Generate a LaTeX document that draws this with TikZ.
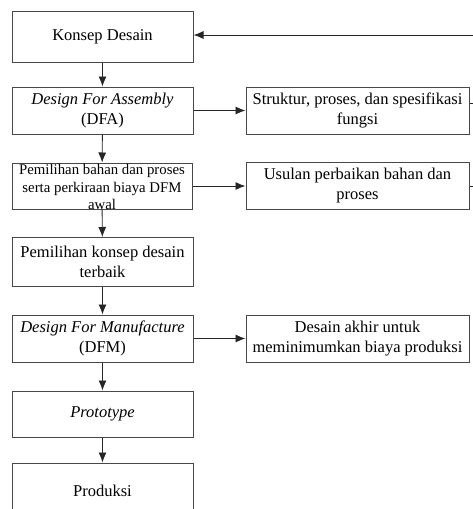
\documentclass[tikz,border=0pt]{standalone}
\usepackage{fontspec}
\setmainfont{Liberation Serif}
\usetikzlibrary{arrows.meta}
\begin{document}
\begin{tikzpicture}[x=1pt,y=-1pt,
  box/.style={draw=black!72, line width=1pt, inner sep=0pt, align=center,
              font=\fontsize{16.5}{20}\selectfont},
  lbox/.style={box, minimum width=181pt},
  rbox/.style={box, minimum width=223pt, minimum height=47pt},
  arr/.style={-{Latex[length=10pt,width=8pt]}, line width=0.9pt, black!85},
  ln/.style={line width=0.9pt, black!85}]
\useasboundingbox (0,0) rectangle (473,509);
% left column
\node[lbox, minimum height=51pt] (konsep) at (102.5,36.5) {Konsep Desain};
\node[lbox, minimum height=47pt] (dfa) at (102.5,110.5) {\textit{Design For Assembly}\\(DFA)};
\node[lbox, minimum width=180pt, minimum height=46pt] (pem) at (102,186) {};
\node[align=center, inner sep=0pt, font=\fontsize{14.8}{17.5}\selectfont] (pemtxt) at (102,187)
  {Pemilihan bahan dan proses\\serta perkiraan biaya DFM\\awal};
\node[lbox, minimum height=49pt] (terbaik) at (102.5,262) {Pemilihan konsep desain\\terbaik};
\node[lbox, minimum height=47pt] (dfm) at (102.5,338.5) {\textit{Design For Manufacture}\\(DFM)};
\node[lbox, minimum height=46pt] (proto) at (102.5,414) {\textit{Prototype}};
\node[lbox, minimum height=56pt] (prod) at (102.5,491) {Produksi};
% right column
\node[rbox] (struktur) at (357.5,110.5) {Struktur, proses, dan spesifikasi\\fungsi};
\node[rbox] (usulan) at (357.5,186) {Usulan perbaikan bahan dan\\proses};
\node[rbox] (akhir) at (357.5,338.5) {Desain akhir untuk\\meminimumkan biaya produksi};
% vertical arrows
\draw[arr] (konsep) -- (dfa);
\draw[arr] (dfa) -- (pem);
\draw[arr] (pem) -- (terbaik);
\draw[arr] (terbaik) -- (dfm);
\draw[arr] (dfm) -- (proto);
\draw[arr] (proto) -- (prod);
% horizontal arrows
\draw[arr] (dfa) -- (struktur);
\draw[arr] (pem) -- (usulan);
\draw[arr] (dfm) -- (akhir);
% feedback
\coordinate (fbtop) at (476,35);
\draw[ln] ([yshift=7pt]struktur.east) -- ([yshift=7pt]struktur.east -| fbtop);
\draw[ln] (usulan.east) -| (fbtop);
\draw[arr] (fbtop) -- (fbtop -| konsep.east);
\end{tikzpicture}
\end{document}
